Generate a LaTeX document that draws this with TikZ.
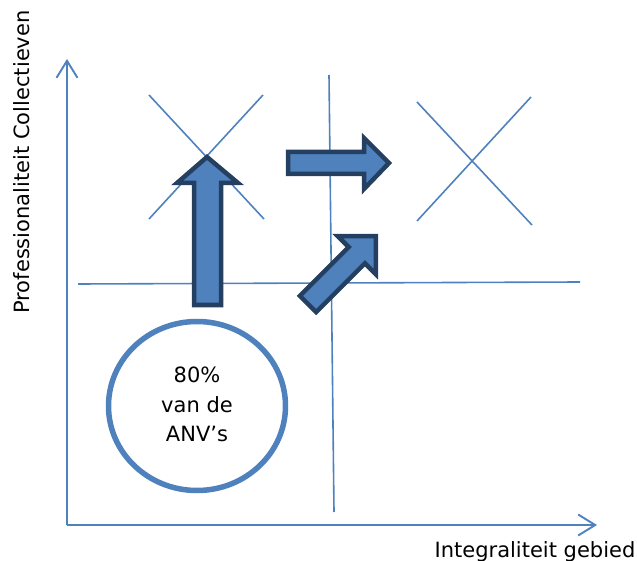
\documentclass[tikz,border=0pt]{standalone}
\usepackage{fontspec}
\setmainfont{DejaVu Sans}
\usetikzlibrary{arrows.meta,shapes.geometric}
\definecolor{lineblue}{HTML}{4F81BD}
\definecolor{arrowfill}{HTML}{4F81BD}
\definecolor{arrowborder}{HTML}{243F60}
\tikzset{
  axis/.style={draw=lineblue, line width=1.9pt, -{Straight Barb[length=17pt,width=21pt,line width=1.9pt]}},
  gridline/.style={draw=lineblue, line width=1.6pt},
  crossline/.style={draw=lineblue, line width=1.6pt},
  blockarrow/.style={fill=arrowfill, draw=arrowborder, line width=4.5pt, line join=miter},
  lbl/.style={font=\fontsize{21}{29.5}\selectfont, text=black, inner sep=0pt},
}
\begin{document}
\begin{tikzpicture}[x=1pt,y=-1pt]
\useasboundingbox (0,0) rectangle (637,561);
% axes
\coordinate (origin) at (67,525);
\coordinate (ytip) at (67,59);
\coordinate (xtip) at (597,525);
\draw[axis] (origin) -- (ytip);
\draw[axis] (origin) -- (xtip);
% quadrant lines
\coordinate (hl) at (78,284);
\coordinate (hr) at (580,282);
\coordinate (vt) at (329,75);
\coordinate (vb) at (334,512);
\draw[gridline] (hl) -- (hr);
\draw[gridline] (vt) -- (vb);
% crosses
\coordinate (c1a) at (149,95);  \coordinate (c1b) at (264,219);
\coordinate (c1c) at (263,95);  \coordinate (c1d) at (149,219);
\draw[crossline] (c1a) -- (c1b);
\draw[crossline] (c1c) -- (c1d);
\coordinate (c2a) at (417,102); \coordinate (c2b) at (532,225);
\coordinate (c2c) at (531,97);  \coordinate (c2d) at (417,221);
\draw[crossline] (c2a) -- (c2b);
\draw[crossline] (c2c) -- (c2d);
% block arrows
\draw[blockarrow] (207,157) -- (238,183) -- (221,183) -- (221,305) -- (194,305) -- (194,183) -- (177,183) -- cycle;
\draw[blockarrow] (389,163) -- (364,189) -- (364,174) -- (288,174) -- (288,152) -- (364,152) -- (364,138) -- cycle;
\begin{scope}[shift={(308,304)}, rotate=45]
\draw[blockarrow] (96,0) -- (69,27) -- (69,11.5) -- (0,11.5) -- (0,-11.5) -- (69,-11.5) -- (69,-27) -- cycle;
\end{scope}
% circle
\node[ellipse, draw=lineblue, line width=5.5pt, minimum width=177pt, minimum height=169pt, inner sep=0pt] (anv) at (197,406) {};
\node[lbl, align=center] (anvtext) at (197,404.5) {80\%\\van de\\ANV’s};
% axis labels
\node[lbl, anchor=base] (xlabel) at (535,557) {Integraliteit gebied};
\node[lbl, rotate=90, anchor=base] (ylabel) at (29,162) {Professionaliteit Collectieven};
\end{tikzpicture}
\end{document}
